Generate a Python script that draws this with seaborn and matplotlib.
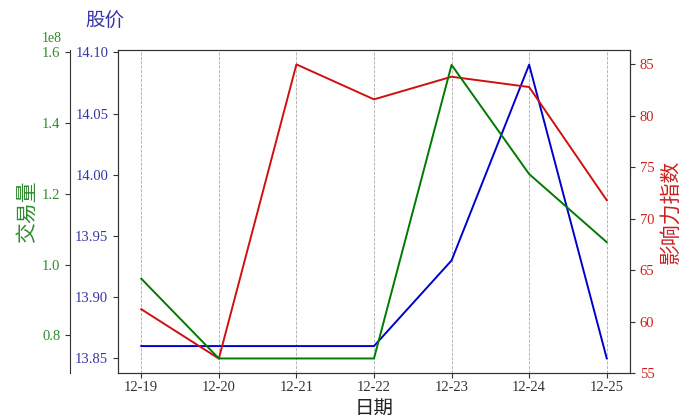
import matplotlib
matplotlib.use("Agg")
import matplotlib.pyplot as plt
import seaborn as sns
import pandas as pd

dates = ["12-19", "12-20", "12-21", "12-22", "12-23", "12-24", "12-25"]
price = [13.86, 13.86, 13.86, 13.86, 13.93, 14.09, 13.85]
volume = [0.960e8, 0.735e8, 0.735e8, 0.735e8, 1.563e8, 1.255e8, 1.063e8]
influence = [61.2, 56.4, 85.0, 81.6, 83.8, 82.8, 71.8]

plt.rcParams['font.family'] = ['Liberation Serif', 'Noto Sans CJK SC', 'DejaVu Sans']
plt.rcParams['axes.unicode_minus'] = False

df = pd.DataFrame({"date": dates, "price": price, "volume": volume, "influence": influence})

c_blue = "#0000cc"
c_green = "#007a00"
c_red = "#d01010"
t_blue = "#3535a5"
t_green = "#2e8b2e"
t_red = "#cc2020"

fig = plt.figure(figsize=(7, 4.2), dpi=100)
ax = fig.add_axes([118/700, 47/420, (630-118)/700, (373-50)/420])
ax2 = ax.twinx()
ax3 = ax.twinx()

sns.lineplot(data=df, x="date", y="price", ax=ax, color=c_blue, linewidth=1.4, sort=False)
sns.lineplot(data=df, x="date", y="influence", ax=ax2, color=c_red, linewidth=1.4, sort=False)
sns.lineplot(data=df, x="date", y="volume", ax=ax3, color=c_green, linewidth=1.4, sort=False)

ax.set_ylim(13.838, 14.102)
ax2.set_ylim(55.0, 86.4)
ax3.set_ylim(0.694e8, 1.605e8)

pt = [13.85, 13.90, 13.95, 14.00, 14.05, 14.10]
ax.set_yticks(pt)
ax.set_yticklabels([f"{v:.2f}" for v in pt])
ax2.set_yticks([55, 60, 65, 70, 75, 80, 85])
ax3.set_yticks([0.8e8, 1.0e8, 1.2e8, 1.4e8, 1.6e8])

ax.xaxis.grid(True, linestyle='--', color='#aaaaaa', linewidth=0.6)
ax.yaxis.grid(False)

ax.tick_params(axis='y', colors=t_blue, labelsize=10.5)
ax.tick_params(axis='y', color='#333333')
ax.tick_params(axis='x', labelsize=10.5, colors='#333333', pad=2)
ax2.tick_params(axis='y', colors=t_red, labelsize=10.5)
ax2.tick_params(axis='y', color='#333333')
ax3.tick_params(axis='y', colors=t_green, labelsize=10.5)
ax3.tick_params(axis='y', color='#333333')

ax3.yaxis.set_ticks_position('left')
ax3.yaxis.set_label_position('left')
ax3.spines['left'].set_position(('outward', 48*72/100))
ax3.spines['left'].set_visible(True)
for s in ['right', 'top', 'bottom']:
    ax3.spines[s].set_visible(False)
ax3.spines['left'].set_color('#333333')
ax3.yaxis.get_offset_text().set_visible(False)
fig.text(52/700, 1 - 38/420, "1e8", color=t_green, fontsize=10, va='center', ha='center')

for a in (ax, ax2):
    for s in a.spines.values():
        s.set_color('#333333')

ax.set_ylabel("")
ax2.set_ylabel("影响力指数", color=t_red, fontsize=15, labelpad=5)
ax3.set_ylabel("交易量", color=t_green, fontsize=15, labelpad=3)
ax.set_xlabel("日期", fontsize=14, color='#222222', labelpad=5)

fig.text(85/700, 1 - 22/420, "股价", color=t_blue, fontsize=14, va='center', ha='left')

fig.savefig("out.png", dpi=100)
